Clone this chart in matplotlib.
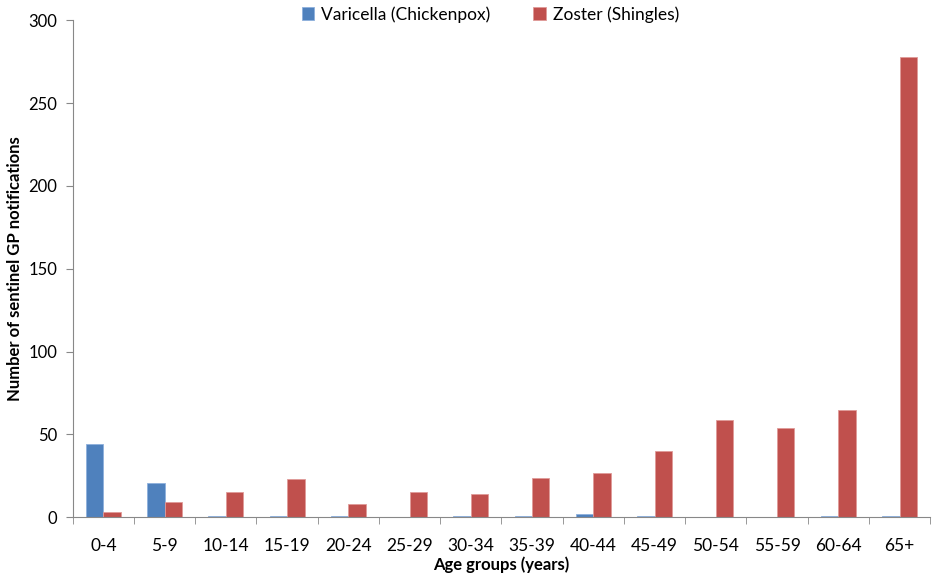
import matplotlib
matplotlib.use("Agg")
import matplotlib.pyplot as plt
import numpy as np

categories = ["0-4", "5-9", "10-14", "15-19", "20-24", "25-29", "30-34",
              "35-39", "40-44", "45-49", "50-54", "55-59", "60-64", "65+"]
varicella = [44, 21, 1, 1, 1, 0, 1, 1, 2, 1, 0, 0, 1, 1]
zoster = [3, 9, 15, 23, 8, 15, 14, 24, 27, 40, 59, 54, 65, 278]
yticks = [0, 50, 100, 150, 200, 250, 300]

plt.rcParams['font.family'] = ['Lato', 'DejaVu Sans']

fig = plt.figure(figsize=(9.32, 5.78), dpi=100)
ax = fig.add_axes([0.078, 0.105, 0.92, 0.86])

x = np.arange(len(categories))
w = 0.285
ax.bar(x - w/2, varicella, width=w, color="#4F81BD", edgecolor="#8EB0DC", linewidth=0.6,
       label="Varicella (Chickenpox)")
ax.bar(x + w/2, zoster, width=w, color="#C0504D", edgecolor="#E09A98", linewidth=0.6,
       label="Zoster (Shingles)")

ax.set_xlim(-0.5, len(categories) - 0.5)
ax.set_ylim(0, 300)
ax.set_yticks(yticks)
ax.set_yticklabels([str(v) for v in yticks], fontsize=12)
ax.set_xticks(x)
ax.set_xticklabels(categories, fontsize=12.5)
ax.tick_params(axis='x', which='major', length=0, pad=15)
ax.set_xticks(np.arange(-0.5, len(categories) + 0.5, 1), minor=True)
ax.tick_params(axis='x', which='minor', length=5, color="#888888", direction='out')
ax.tick_params(axis='y', length=5, color="#888888", direction='out', pad=6)

for s in ['top', 'right']:
    ax.spines[s].set_visible(False)
for s in ['left', 'bottom']:
    ax.spines[s].set_color("#888888")

ax.set_xlabel("Age groups (years)", fontsize=12, fontweight='bold', labelpad=2)
ax.set_ylabel("Number of sentinel GP notifications", fontsize=12, fontweight='bold', labelpad=4)

ax.legend(loc='upper center', bbox_to_anchor=(0.487, 1.06), ncol=2, frameon=False,
          fontsize=12.5, handlelength=0.7, handleheight=0.7, columnspacing=2.5, handletextpad=0.4)

fig.savefig("out.png", dpi=100)
